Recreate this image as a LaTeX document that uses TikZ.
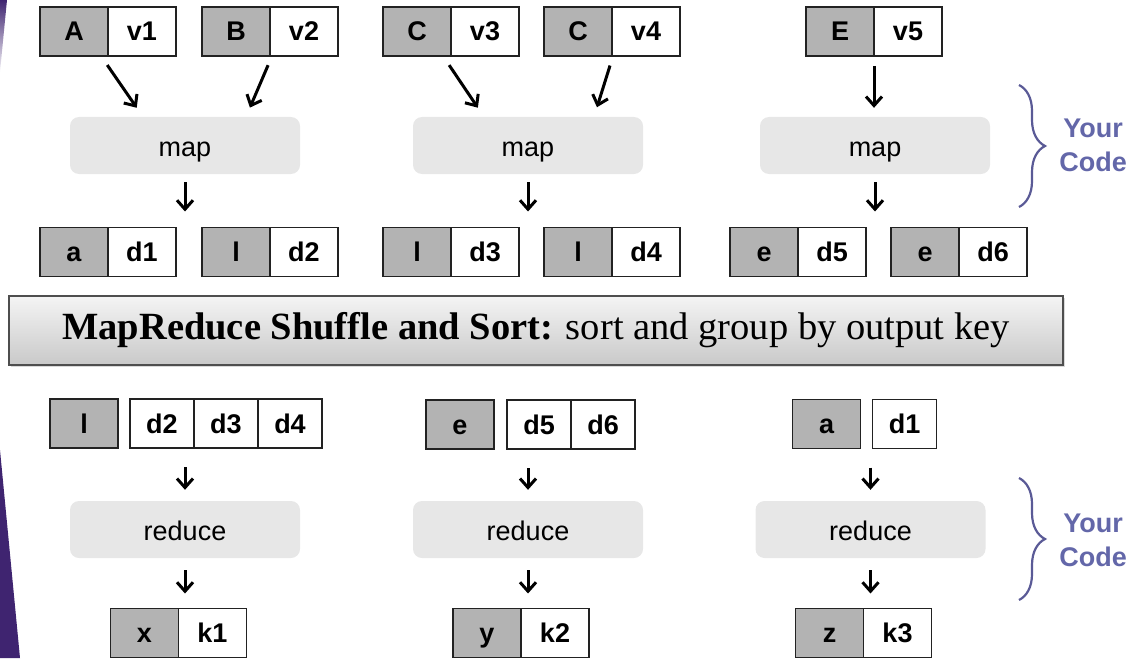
\documentclass[tikz,border=0pt]{standalone}
\usepackage{fontspec}
\setsansfont{Liberation Sans}
\newfontfamily\barfont{Liberation Serif}
\usetikzlibrary{positioning, calc, arrows.meta, decorations.pathreplacing, shadows}
\definecolor{Dark}{HTML}{222222}
\definecolor{KeyGray}{HTML}{B3B3B3}
\definecolor{FuncGray}{HTML}{E7E7E7}
\definecolor{BarTop}{HTML}{F4F4F4}
\definecolor{BarBottom}{HTML}{C9C9C9}
\definecolor{CodeBlue}{HTML}{6367A9}
\definecolor{BraceBlue}{HTML}{5A5A96}
\definecolor{SlidePurple}{HTML}{3F2470}
\tikzset{
    keycell/.style={rectangle, draw=Dark, line width=1.8pt, fill=KeyGray, minimum width=68pt, minimum height=49pt, inner sep=0pt, outer sep=0pt, text height=19pt, text depth=0pt, font=\sffamily\bfseries\fontsize{27}{29}\selectfont},
    valcell/.style={keycell, fill=white},
    funcbox/.style={rectangle, rounded corners=9pt, fill=FuncGray, minimum width=230pt, minimum height=57pt, inner sep=0pt, text height=21pt, text depth=0pt, font=\sffamily\fontsize{27}{29}\selectfont},
    arrow/.style={-{Straight Barb[length=9pt, width=16pt]}, line width=3pt, color=black},
    shufflebar/.style={rectangle, draw=Dark!80, line width=1.2pt, top color=BarTop, bottom color=BarBottom, minimum width=1054pt, minimum height=69pt, drop shadow={shadow xshift=2pt, shadow yshift=-2pt, opacity=0.3}, font=\barfont\fontsize{38.5}{40}\selectfont},
    codebrace/.style={decorate, decoration={brace, amplitude=26pt}, draw=BraceBlue, line width=2.2pt},
    yourcode/.style={font=\sffamily\bfseries\fontsize{27}{34}\selectfont, text=CodeBlue, align=center},
}
\begin{document}
\begin{tikzpicture}[x=1pt, y=-1pt]
    \useasboundingbox (0,0) rectangle (1134,658);
    % Bordo slide
    \shade[top color=SlidePurple, bottom color=SlidePurple!5] (0,0) -- (7,0) -- (0,72) -- cycle;
    \fill[SlidePurple] (0,450) -- (20,658) -- (0,658) -- cycle;

    % Coppie in ingresso
    \foreach \n/\k/\v/\x in {1/A/v1/74, 2/B/v2/236, 3/C/v3/417, 4/C/v4/578, 5/E/v5/840} {
        \node[keycell] (kin\n) at (\x,31.5) {\k};
        \node[valcell, right=0pt of kin\n] (vin\n) {\v};
    }
    % Map
    \foreach \i/\x in {1/185, 2/528, 3/875} {
        \node[funcbox] (map\i) at (\x,145.5) {map};
    }
    \draw[arrow, shorten <=11pt, shorten >=11pt] ($(kin1.south east)+(-7,0)$) -- ($(map1.north)+(-42,0)$);
    \draw[arrow, shorten <=10pt, shorten >=10pt] ($(kin2.south east)+(2,0)$) -- ($(map1.north)+(61,0)$);
    \draw[arrow, shorten <=11pt, shorten >=11pt] ($(kin3.south east)+(-8,0)$) -- ($(map2.north)+(-44,0)$);
    \draw[arrow, shorten <=10pt, shorten >=10pt] ($(kin4.south east)+(1,0)$) -- ($(map2.north)+(66,0)$);
    \draw[arrow, shorten <=10pt, shorten >=9pt] (kin5.south east) -- (kin5.south east |- map3.north);

    % Coppie intermedie
    \foreach \n/\k/\v/\x in {1/a/d1/74, 2/l/d2/236, 3/l/d3/417, 4/l/d4/578, 5/e/d5/764, 6/e/d6/925} {
        \node[keycell] (kmid\n) at (\x,252) {\k};
        \node[valcell, right=0pt of kmid\n] (vmid\n) {\v};
    }
    \foreach \i/\j in {1/1, 2/3, 3/5} {
        \draw[arrow, shorten <=8pt, shorten >=16pt] (map\i.south) -- (map\i.south |- kmid\j.north);
    }

    % Shuffle
    \node[shufflebar] (shuffle) at (536,330.5) {\textbf{MapReduce Shuffle and Sort:} sort and group by output key};

    % Gruppi per chiave
    \node[keycell] (kred1) at (84,423.5) {l};
    \node[valcell, minimum width=64pt, right=12pt of kred1] (vd2) {d2};
    \node[valcell, minimum width=64pt, right=0pt of vd2] (vd3) {d3};
    \node[valcell, minimum width=64pt, right=0pt of vd3] (vd4) {d4};
    \node[keycell] (kred2) at (460,424.5) {e};
    \node[valcell, minimum width=64pt, right=13pt of kred2] (vd5) {d5};
    \node[valcell, minimum width=64pt, right=0pt of vd5] (vd6) {d6};
    \node[keycell] (kred3) at (826.5,424) {a};
    \node[valcell, minimum width=64pt, right=12pt of kred3] (vd1) {d1};

    % Reduce
    \foreach \i/\x in {1/185, 2/528, 3/870.5} {
        \node[funcbox] (red\i) at (\x,529.5) {reduce};
        \draw[arrow, shorten <=19pt, shorten >=11pt] (red\i.north |- kred\i.south) -- (red\i.north);
    }

    % Risultati
    \foreach \n/\k/\v/\x in {1/x/k1/144.5, 2/y/k2/487, 3/z/k3/829.5} {
        \node[keycell] (kout\n) at (\x,633) {\k};
        \node[valcell, right=0pt of kout\n] (vout\n) {\v};
        \draw[arrow, shorten <=12pt, shorten >=15pt] (red\n.south) -- (red\n.south |- kout\n.north);
    }

    % Parentesi
    \draw[codebrace] (1019,85) -- (1019,207);
    \node[yourcode] (code1) at (1093,145) {Your\\Code};
    \draw[codebrace] (1019,478) -- (1019,600);
    \node[yourcode] (code2) at (1093,540) {Your\\Code};
\end{tikzpicture}
\end{document}
